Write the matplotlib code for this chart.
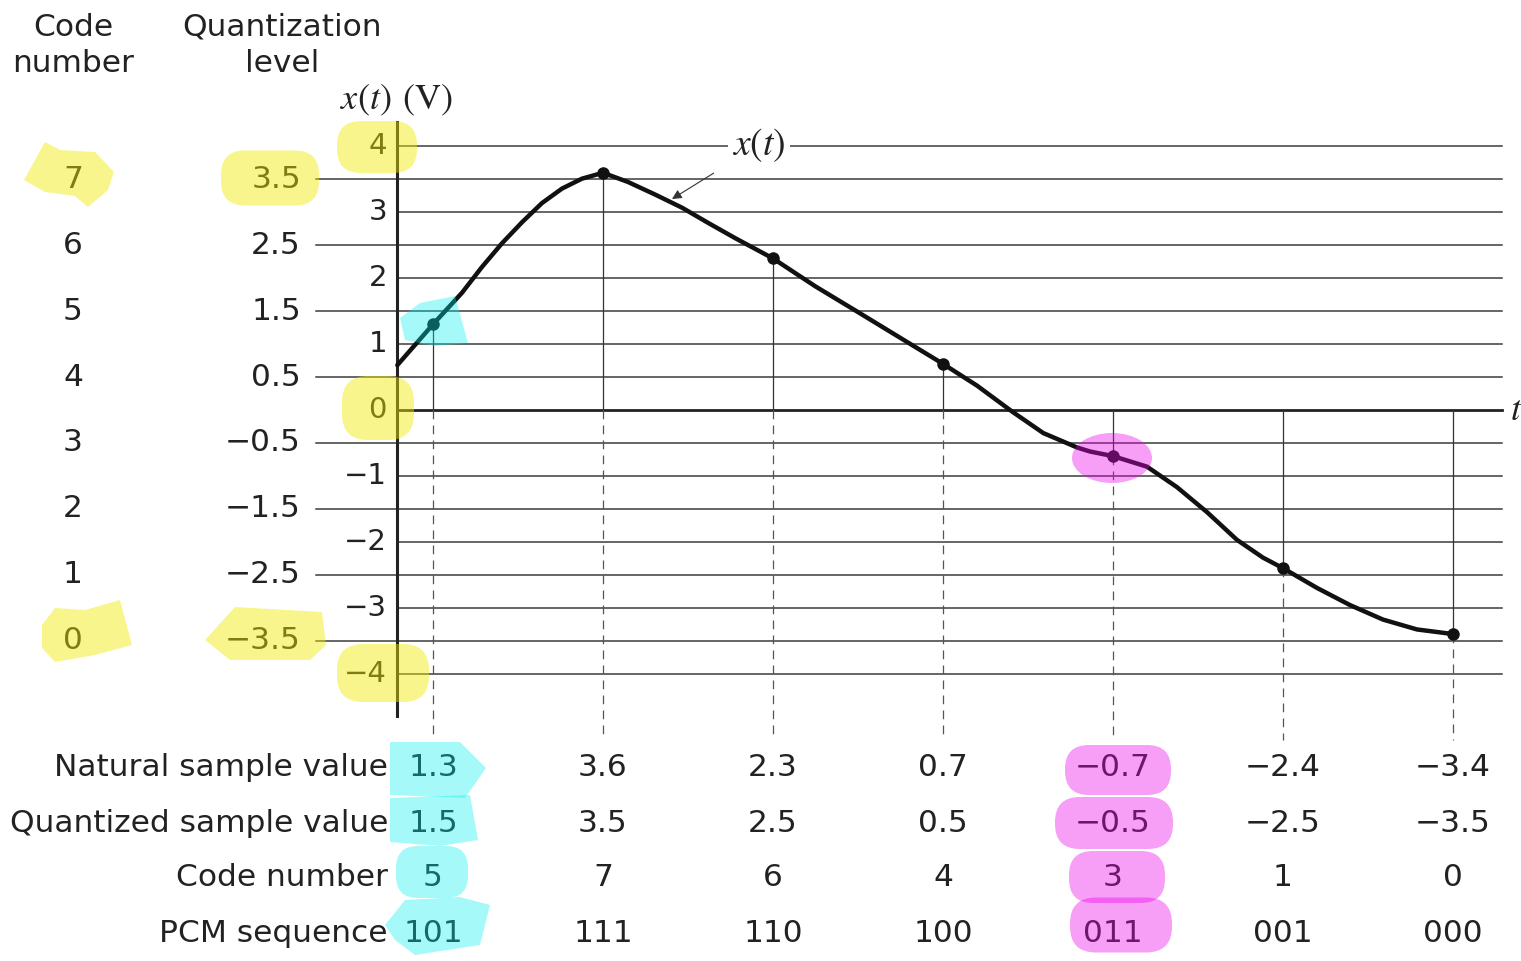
import matplotlib
matplotlib.use("Agg")
import matplotlib.pyplot as plt
from matplotlib.patches import FancyBboxPatch, Ellipse, Polygon

plt.rcParams['font.family'] = ['DejaVu Sans']
plt.rcParams['mathtext.fontset'] = 'stix'

# ---------------- data ----------------
sample_t = [1, 2, 3, 4, 5, 6, 7]
natural_values = [1.3, 3.6, 2.3, 0.7, -0.7, -2.4, -3.4]
quantized_values = [1.5, 3.5, 2.5, 0.5, -0.5, -2.5, -3.5]
code_numbers = [5, 7, 6, 4, 3, 1, 0]
pcm_sequences = ['101', '111', '110', '100', '011', '001', '000']

quant_levels = [3.5, 2.5, 1.5, 0.5, -0.5, -1.5, -2.5, -3.5]
level_codes = [7, 6, 5, 4, 3, 2, 1, 0]
axis_ticks = [4, 3, 2, 1, 0, -1, -2, -3, -4]

# continuous signal x(t)
curve_t = [0.79, 1.0, 1.171, 1.288, 1.406, 1.524, 1.641, 1.759, 1.876, 2.0,
           2.147, 2.306, 2.465, 2.618, 2.776, 3.0, 3.247, 3.51, 4.0, 4.2, 4.41,
           4.59, 4.69, 4.79, 4.865, 5.0, 5.2, 5.376, 5.553, 5.729, 5.882, 6.0,
           6.2, 6.394, 6.588, 6.788, 7.0]
curve_x = [0.68, 1.3, 1.78, 2.17, 2.53, 2.85, 3.14, 3.36, 3.51, 3.6,
           3.46, 3.27, 3.07, 2.84, 2.61, 2.3, 1.88, 1.47, 0.7, 0.37, -0.03,
           -0.35, -0.46, -0.57, -0.63, -0.7, -0.86, -1.17, -1.55, -1.97, -2.24, -2.4,
           -2.7, -2.96, -3.18, -3.33, -3.4]

row_labels = ['Natural sample value', 'Quantized sample value', 'Code number', 'PCM sequence']

# ---------------- layout helpers (pixel <-> data) ----------------
W, H = 1521, 961
PX_T1, PX_DT = 433.0, 170.0      # pixel x of t=1, pixels per unit t
PY_0, PY_DY = 410.0, 65.9        # pixel y of x=0, pixels per volt


def tx(px):
    return 1 + (px - PX_T1) / PX_DT


def vy(py):
    return (PY_0 - py) / PY_DY


def fmt(v):
    return f'{v:g}'.replace('-', '\u2212')


fig = plt.figure(figsize=(W / 100, H / 100), dpi=100)
ax = fig.add_axes([0, 0, 1, 1])
ax.set_xlim(tx(0), tx(W))
ax.set_ylim(vy(H), vy(0))
ax.axis('off')

t_axis = tx(397)
t_right = tx(1502)
t_half_left = tx(316)
grid_c = '#3c3c3c'

# horizontal lines
for lv in quant_levels:
    ax.plot([t_half_left, t_right], [lv, lv], color=grid_c, lw=1.1, zorder=1)
for tk in axis_ticks:
    lw = 2.0 if tk == 0 else 1.1
    ax.plot([t_axis, t_right], [tk, tk], color='#222' if tk == 0 else grid_c, lw=lw, zorder=1)

# vertical axis
ax.plot([t_axis, t_axis], [vy(122), vy(716)], color='#222', lw=2.2, zorder=2)

# sample lines
y_bottom = vy(740)
for t, v in zip(sample_t, natural_values):
    ax.plot([t, t], [0, v], color='#333', lw=0.9, zorder=1)
    ax.plot([t, t], [min(0, v), y_bottom], color='#555', lw=0.9,
            linestyle=(0, (7, 5)), zorder=1)

# signal and samples
ax.plot(curve_t, curve_x, color='#111', lw=3.2, solid_capstyle='round',
        solid_joinstyle='round', zorder=3)
ax.plot(sample_t, natural_values, 'o', color='#111', ms=8, zorder=4)

# tick labels
fs = 22.5
for tk in axis_ticks:
    ax.text(tx(387), tk, fmt(tk), ha='right', va='center', fontsize=21, color='#222')
for lv, cd in zip(quant_levels, level_codes):
    ax.text(tx(301), lv, fmt(lv), ha='right', va='center', fontsize=fs, color='#222')
    ax.text(tx(73), lv, str(cd), ha='center', va='center', fontsize=fs, color='#222')

# headers
ax.text(tx(73), vy(27), 'Code', ha='center', va='center', fontsize=fs, color='#222')
ax.text(tx(73), vy(63), 'number', ha='center', va='center', fontsize=fs, color='#222')
ax.text(tx(282), vy(27), 'Quantization', ha='center', va='center', fontsize=fs, color='#222')
ax.text(tx(282), vy(63), 'level', ha='center', va='center', fontsize=fs, color='#222')
ax.text(tx(397), vy(100), r'$x(t)\;\,(\mathrm{V})$', ha='center', va='center',
        fontsize=26, color='#222')
ax.text(tx(1516), 0, r'$t$', ha='center', va='center', fontsize=26, color='#222')

# x(t) annotation
ax.annotate(r'$x(t)$', xy=(tx(672), vy(199)), xytext=(tx(759), vy(145)),
            ha='center', va='center', fontsize=27, color='#222',
            bbox=dict(boxstyle='square,pad=0.12', fc='white', ec='none'),
            arrowprops=dict(arrowstyle='-|>', color='#333', lw=0.8,
                            mutation_scale=14, shrinkA=12, shrinkB=0),
            zorder=5)

# table below
row_py = [768, 823, 878, 933]
rows = [
    [fmt(v) for v in natural_values],
    [fmt(v) for v in quantized_values],
    [str(c) for c in code_numbers],
    pcm_sequences,
]
for py, lab, vals in zip(row_py, row_labels, rows):
    ax.text(tx(388), vy(py), lab, ha='right', va='center', fontsize=fs, color='#222')
    for t, s in zip(sample_t, vals):
        ax.text(t, vy(py), s, ha='center', va='center', fontsize=fs, color='#222')

# ---------------- highlighter overlay (pixel coordinates) ----------------
ov = fig.add_axes([0, 0, 1, 1])
ov.set_xlim(0, W)
ov.set_ylim(H, 0)
ov.axis('off')
ov.patch.set_alpha(0)

yel = dict(color=(0.94, 0.92, 0.0), alpha=0.45, lw=0)
cya = dict(color=(0.0, 0.94, 0.94), alpha=0.35, lw=0)
mag = dict(color=(0.92, 0.0, 0.92), alpha=0.38, lw=0)


def blob(cx, cy, w, h, style, r=22):
    ov.add_patch(FancyBboxPatch((cx - w / 2 + r, cy - h / 2 + r), w - 2 * r, h - 2 * r,
                                boxstyle=f'round,pad={r}', **style))


# yellow
ov.add_patch(Polygon([(24, 180), (45, 142), (60, 150), (95, 152), (114, 172),
                      (108, 190), (88, 207), (75, 196), (45, 192)], **yel))
blob(270, 178, 98, 55, yel, r=24)
blob(377, 147, 80, 52, yel, r=24)
blob(378, 408, 72, 64, yel, r=26)
blob(383, 673, 92, 58, yel, r=26)
ov.add_patch(Polygon([(42, 625), (55, 608), (85, 610), (120, 600), (132, 645),
                      (95, 655), (55, 662), (42, 648)], **yel))
ov.add_patch(Polygon([(205, 640), (235, 607), (322, 612), (326, 645), (310, 660),
                      (230, 660)], **yel))

# cyan
ov.add_patch(Polygon([(400, 318), (420, 303), (455, 296), (468, 343), (435, 346),
                      (405, 340)], **cya))
ov.add_patch(Polygon([(390, 742), (460, 742), (486, 768), (465, 798), (390, 795)], **cya))
ov.add_patch(Polygon([(390, 798), (470, 795), (478, 840), (440, 846), (390, 842)], **cya))
blob(432, 872, 72, 52, cya, r=22)
ov.add_patch(Polygon([(385, 925), (405, 900), (460, 897), (490, 905), (480, 945),
                      (415, 955), (395, 940)], **cya))

# magenta
ov.add_patch(Ellipse((1112, 458), 80, 50, **mag))
blob(1118, 770, 106, 50, mag, r=24)
blob(1114, 823, 118, 52, mag, r=25)
blob(1117, 877, 96, 52, mag, r=24)
blob(1121, 925, 102, 55, mag, r=26)

fig.savefig('out.png', dpi=100)
